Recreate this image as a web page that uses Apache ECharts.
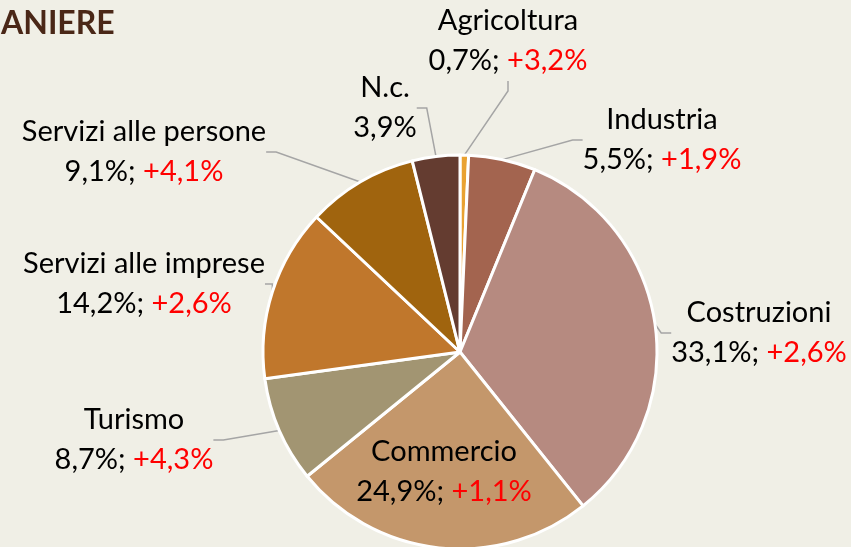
<!DOCTYPE html>
<html>
<head>
<meta charset="utf-8">
<script src="https://cdn.jsdelivr.net/npm/echarts@6/dist/echarts.min.js"></script>
<style>
  html, body { margin: 0; padding: 0; background: #f0efe6; }
  #chart { width: 851px; height: 547px; }
</style>
</head>
<body>
<div id="chart"></div>
<script>
// settori (ordine orario dalle ore 12)
const settori = ['Agricoltura', 'Industria', 'Costruzioni', 'Commercio', 'Turismo',
    'Servizi alle imprese', 'Servizi alle persone', 'N.c.'];
const quote = [0.7, 5.5, 33.1, 24.9, 8.7, 14.2, 9.1, 3.9];
const variazioni = ['+3,2%', '+1,9%', '+2,6%', '+1,1%', '+4,3%', '+2,6%', '+4,1%', ''];
const colori = ['#e9a232', '#a3644f', '#b68a80', '#c4976b', '#a29572', '#c0772c', '#a0640e', '#643c30'];

// posizione dei centri delle etichette (solo layout)
const labelPos = [
    [508, 41], [662, 140], [759, 333], [444, 472],
    [134, 440], [144, 284], [144, 152], [385, 108]
];

const fmt = v => v.toFixed(1).replace('.', ',') + '%';

const chart = echarts.init(document.getElementById('chart'));

const data = settori.map((name, i) => ({
    name: name,
    value: quote[i],
    itemStyle: { color: colori[i] },
    labelLine: { show: i !== 3 }
}));

const txt = { fontFamily: 'Lato', fontSize: 29, lineHeight: 40 };

chart.setOption({
    backgroundColor: '#f0efe6',
    animation: false,
    title: {
        text: 'ANIERE',
        left: -4,
        top: 3,
        textStyle: { fontFamily: 'Lato', fontWeight: 'bold', fontSize: 32, color: '#4a2717' }
    },
    series: [{
        type: 'pie',
        center: [460, 352],
        radius: 197,
        startAngle: 90,
        clockwise: true,
        avoidLabelOverlap: false,
        itemStyle: { borderColor: '#ffffff', borderWidth: 3 },
        data: data,
        label: {
            show: true,
            position: 'outside',
            align: 'center',
            verticalAlign: 'middle',
            lineHeight: 40,
            formatter: p => {
                const i = p.dataIndex;
                const d = variazioni[i] ? '{v|' + fmt(quote[i]) + '; }{d|' + variazioni[i] + '}' : '{v|' + fmt(quote[i]) + '}';
                return '{n|' + p.name + '}\n' + d;
            },
            rich: {
                n: Object.assign({ color: '#000', align: 'center' }, txt),
                v: Object.assign({ color: '#000' }, txt),
                d: Object.assign({ color: '#ff0000' }, txt)
            }
        },
        labelLine: {
            show: true,
            length: 10,
            length2: 10,
            lineStyle: { color: '#a5a5a5', width: 1.5 }
        },
        labelLayout: p => ({
            x: labelPos[p.dataIndex][0],
            y: labelPos[p.dataIndex][1],
            align: 'center',
            verticalAlign: 'middle'
        })
    }]
});
</script>
</body>
</html>
